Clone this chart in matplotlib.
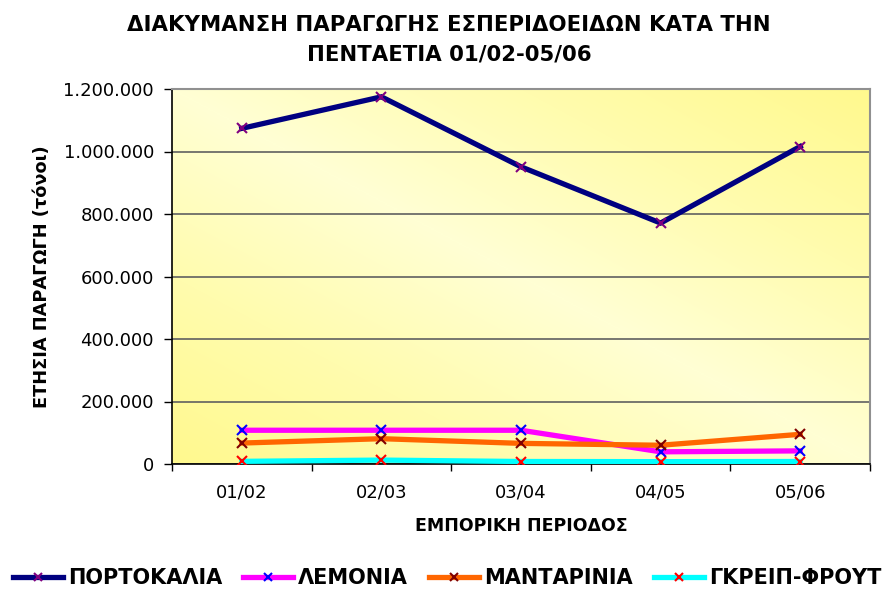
import numpy as np
import matplotlib
matplotlib.use("Agg")
import matplotlib.pyplot as plt
from matplotlib.colors import LinearSegmentedColormap

plt.rcParams['font.family'] = ['DejaVu Sans']

periods = ["01/02", "02/03", "03/04", "04/05", "05/06"]
oranges = [1074000, 1175000, 951000, 771000, 1016000]
lemons = [108000, 108000, 108000, 39000, 42000]
mandarins = [67000, 81000, 66000, 60000, 95000]
grapefruit = [8500, 12500, 8000, 7500, 8000]

series_names = ["ΠΟΡΤΟΚΑΛΙΑ", "ΛΕΜΟΝΙΑ", "ΜΑΝΤΑΡΙΝΙΑ", "ΓΚΡΕΙΠ-ΦΡΟΥΤ"]
series_vals = [oranges, lemons, mandarins, grapefruit]
line_colors = ["#000080", "#FF00FF", "#FF6600", "#00FFFF"]
marker_colors = ["#800080", "#0000FF", "#800000", "#FF0000"]

yticks = [0, 200000, 400000, 600000, 800000, 1000000, 1200000]
ytick_labels = ["0", "200.000", "400.000", "600.000", "800.000", "1.000.000", "1.200.000"]

fig = plt.figure(figsize=(8.86, 5.89), dpi=100)
ax = fig.add_axes([172/886, 1-464/589, 698/886, 375/589])

# gradient background
n = 300
gx, gy = np.meshgrid(np.linspace(0, 1, n), np.linspace(0, 1, n))
t = np.abs((gx + gy) / 2 - 0.5) * 2
cmap = LinearSegmentedColormap.from_list("g", ["#FFFFD4", "#FFFCAE", "#FFF98E"])
ax.imshow(t, cmap=cmap, extent=[0, 1, 0, 1], transform=ax.transAxes,
          origin="lower", aspect="auto", zorder=0, interpolation="bilinear")

x = np.arange(1, len(periods) + 1)
handles = []
for name, vals, lc, mc in zip(series_names, series_vals, line_colors, marker_colors):
    h, = ax.plot(x, vals, color=lc, lw=3.8, marker="x", markersize=6.5,
                 markeredgecolor=mc, markeredgewidth=1.5, zorder=3,
                 solid_joinstyle="miter", label=name)
    handles.append(h)

ax.set_xlim(0.5, len(periods) + 0.5)
ax.set_ylim(0, 1200000)
ax.set_yticks(yticks)
ax.set_yticklabels(ytick_labels, fontsize=13)
ax.yaxis.grid(True, color="#606060", lw=1.2, zorder=1)
ax.set_axisbelow(True)

ax.set_xticks(np.arange(0.5, len(periods) + 1, 1.0))
ax.set_xticklabels([])
ax.set_xticks(x, minor=True)
ax.set_xticklabels(periods, minor=True, fontsize=13)
ax.tick_params(axis="x", which="minor", length=0, pad=14)
ax.tick_params(axis="x", which="major", length=5, direction="out", width=1)
ax.tick_params(axis="y", length=6, direction="out", width=1, pad=7)

for s in ["left", "bottom"]:
    ax.spines[s].set_color("black")
    ax.spines[s].set_linewidth(1.2)
for s in ["top", "right"]:
    ax.spines[s].set_color("#909090")
    ax.spines[s].set_linewidth(1.5)

ax.set_ylabel("ΕΤΗΣΙΑ ΠΑΡΑΓΩΓΗ (τόνοι)", fontsize=12.8, fontweight="bold", labelpad=9)
ax.set_xlabel("ΕΜΠΟΡΙΚΗ ΠΕΡΙΟΔΟΣ", fontsize=12.5, fontweight="bold", labelpad=11)

fig.text(449/886, 1-40/589, "ΔΙΑΚΥΜΑΝΣΗ ΠΑΡΑΓΩΓΗΣ ΕΣΠΕΡΙΔΟΕΙΔΩΝ ΚΑΤΑ ΤΗΝ\nΠΕΝΤΑΕΤΙΑ 01/02-05/06",
         ha="center", va="center", fontsize=15.3, fontweight="bold", linespacing=1.6)

fig.legend(handles=handles, loc="center", bbox_to_anchor=(447/886, 1-578/589), ncol=4,
           frameon=False, prop={"size": 15, "weight": "bold"}, handlelength=2.4,
           handletextpad=0.25, columnspacing=1.0, borderaxespad=0, markerscale=0.8)

fig.savefig("out.png", dpi=100)
